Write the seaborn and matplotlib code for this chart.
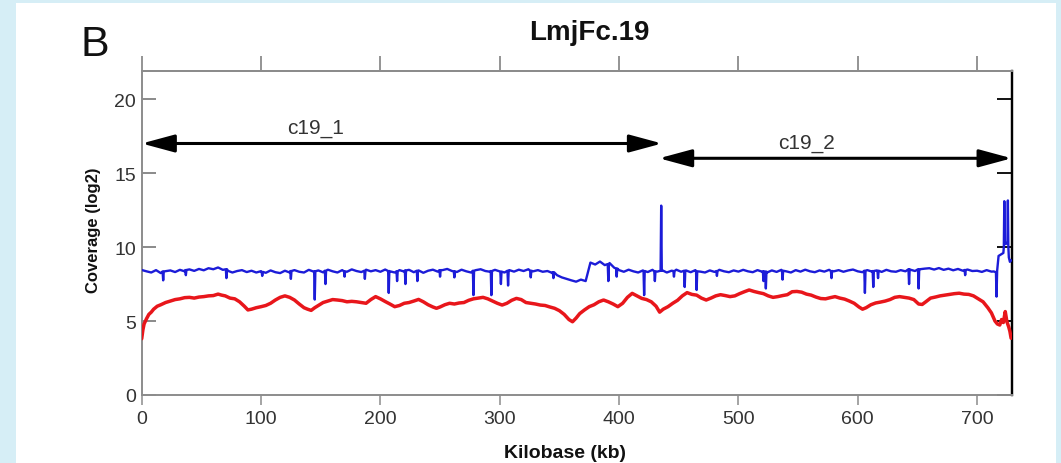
import matplotlib
matplotlib.use("Agg")
import matplotlib.pyplot as plt
import seaborn as sns
import pandas as pd
from matplotlib.patches import Rectangle

# ---------------- data ----------------
title = "LmjFc.19"
panel_letter = "B"
x_label = "Kilobase (kb)"
y_label = "Coverage (log2)"
x_ticks = [0, 100, 200, 300, 400, 500, 600, 700]
y_ticks = [0, 5, 10, 15, 20]

# blue (read coverage) baseline, sampled every 4 kb from 0 to 712 kb
blue_base_kb = list(range(0, 716, 4))
blue_base_cov = [
    8.45, 8.36, 8.28, 8.44, 8.24, 8.37, 8.42, 8.31, 8.46, 8.36, 8.49, 8.39, 8.52, 8.43, 8.57, 8.50, 8.62, 8.46, 8.40, 8.28, 8.38, 8.44, 8.31, 8.40, 8.28,
    8.37, 8.26, 8.42, 8.30, 8.24, 8.40, 8.28, 8.44, 8.33, 8.28, 8.46, 8.34, 8.42, 8.29, 8.47, 8.36, 8.28, 8.44, 8.33, 8.49, 8.38, 8.31, 8.47, 8.36, 8.44,
    8.33, 8.48, 8.36, 8.28, 8.44, 8.34, 8.46, 8.30, 8.42, 8.26, 8.40, 8.47, 8.34, 8.44, 8.52, 8.38, 8.31, 8.47, 8.36, 8.28, 8.44, 8.50, 8.38, 8.33, 8.46,
    8.36, 8.28, 8.44, 8.34, 8.47, 8.38, 8.50, 8.36, 8.44, 8.33, 8.38, 8.25, 8.10, 7.95, 7.85, 7.75, 7.66, 7.80, 7.70, 8.95, 8.82, 9.02, 8.78, 8.92, 8.60,
    8.44, 8.33, 8.47, 8.36, 8.28, 8.42, 8.31, 8.46, 8.34, 8.44, 8.28, 8.40, 8.47, 8.33, 8.42, 8.30, 8.44, 8.34, 8.28, 8.42, 8.32, 8.46, 8.36, 8.30, 8.42,
    8.34, 8.46, 8.36, 8.30, 8.44, 8.33, 8.28, 8.42, 8.32, 8.46, 8.36, 8.28, 8.44, 8.34, 8.47, 8.36, 8.30, 8.42, 8.34, 8.46, 8.36, 8.44, 8.33, 8.42, 8.48,
    8.36, 8.30, 8.44, 8.34, 8.42, 8.32, 8.46, 8.36, 8.33, 8.44, 8.36, 8.47, 8.38, 8.50, 8.54, 8.57, 8.48, 8.58, 8.46, 8.54, 8.43, 8.52, 8.40, 8.48, 8.38,
    8.40, 8.32, 8.44, 8.34,
]
# blue narrow spikes: position, tip value, and the local level on both sides of the spike
blue_spike_kb = [18, 37, 71, 101, 125, 145, 154, 170, 187, 207, 214, 221, 231, 250, 262, 278, 293, 301, 307, 326, 345,
                 391, 398, 421, 430, 435.3, 446, 455, 465, 482, 521, 523, 537, 578, 606, 613, 617, 643, 651, 690]
blue_spike_cov = [7.75, 8.1, 7.9, 8.05, 7.85, 6.45, 7.5, 8.0, 7.85, 6.9, 7.7, 7.5, 7.7, 8.0, 7.95, 6.75, 6.75, 7.5, 7.4, 7.95, 7.9,
                  7.7, 8.0, 6.75, 7.7, 12.8, 8.0, 7.3, 7.1, 8.05, 7.7, 7.2, 7.8, 7.9, 6.9, 7.3, 7.9, 7.5, 7.2, 8.1]
blue_spike_side = [8.35, 8.45, 8.50, 8.32, 8.38, 8.36, 8.40, 8.36, 8.40, 8.38, 8.36, 8.42, 8.40, 8.44, 8.36, 8.40, 8.38, 8.34, 8.40, 8.40, 8.30,
                   8.85, 8.55, 8.38, 8.36, 8.40, 8.38, 8.40, 8.36, 8.38, 8.36, 8.34, 8.40, 8.38, 8.40, 8.38, 8.40, 8.50, 8.50, 8.45]
# blue right chromosome end
blue_end_kb = [714, 715.8, 716.3, 716.8, 718, 720, 722, 722.4, 722.8, 723.2, 724, 725.4, 725.8, 726.2, 726.6, 727.5, 728.5]
blue_end_cov = [8.35, 8.3, 6.65, 8.4, 9.4, 9.5, 9.6, 10.0, 13.1, 10.4, 10.2, 10.3, 13.15, 10.0, 9.3, 9.0, 9.1]

# red (second sample) coverage
red_kb = [0, 1, 2, 4, 6, 8, 10, 13, 16, 20, 24, 28, 32, 36, 40, 44, 48, 52, 56, 60, 64, 67, 70, 74, 78, 82, 86, 89, 92, 96,
          100, 104, 108, 112, 116, 120, 124, 128, 132, 136, 139, 142, 145, 148, 152, 156, 160, 164, 168, 172, 176, 180, 184, 188, 192, 196,
          200, 204, 208, 212, 216, 220, 224, 228, 232, 236, 240, 244, 247, 250, 254, 258, 262, 266, 270, 274, 278, 282, 286, 290, 294, 298,
          302, 306, 310, 314, 318, 322, 326, 330, 334, 338, 342, 346, 350, 354, 358, 361, 364, 367, 371, 375, 379, 383, 387, 391, 395, 399,
          403, 407, 411, 415, 419, 423, 427, 431, 434, 437, 441, 445, 449, 453, 457, 461, 465, 469, 473, 477, 481, 485, 489, 493, 497,
          501, 505, 509, 513, 517, 521, 525, 529, 533, 537, 541, 545, 549, 553, 557, 561, 565, 569, 573, 577, 581, 585, 589, 593, 597,
          601, 604, 607, 611, 615, 619, 623, 627, 631, 635, 639, 643, 647, 651, 654, 657, 661, 665, 669, 673, 677, 681, 685, 689, 693, 697,
          701, 705, 709, 712, 715, 717, 719, 720.5, 722, 723.6, 725, 726.5, 727.5, 728.5]
red_cov = [3.8, 4.4, 4.8, 5.15, 5.45, 5.6, 5.8, 6.0, 6.1, 6.25, 6.35, 6.45, 6.5, 6.58, 6.6, 6.55, 6.62, 6.65, 6.7, 6.72, 6.82, 6.75, 6.7, 6.55, 6.5, 6.3, 6.0, 5.75, 5.8, 5.9,
           5.97, 6.05, 6.2, 6.42, 6.6, 6.7, 6.6, 6.42, 6.15, 5.9, 5.8, 5.72, 5.9, 6.05, 6.25, 6.35, 6.45, 6.42, 6.38, 6.3, 6.33, 6.3, 6.25, 6.2, 6.45, 6.65,
           6.5, 6.32, 6.15, 5.97, 6.05, 6.2, 6.25, 6.35, 6.46, 6.3, 6.1, 5.95, 5.86, 5.95, 6.1, 6.2, 6.15, 6.22, 6.25, 6.4, 6.5, 6.55, 6.6, 6.5, 6.35, 6.2,
           6.08, 6.2, 6.4, 6.53, 6.45, 6.25, 6.2, 6.15, 6.08, 6.05, 5.95, 5.86, 5.7, 5.45, 5.1, 4.95, 5.2, 5.5, 5.75, 5.97, 6.1, 6.3, 6.42, 6.3, 6.15, 5.97,
           6.2, 6.6, 6.87, 6.7, 6.53, 6.45, 6.3, 6.0, 5.6, 5.8, 5.97, 6.2, 6.4, 6.7, 6.92, 6.8, 6.75, 6.55, 6.42, 6.55, 6.7, 6.78, 6.72, 6.65, 6.7,
           6.85, 6.98, 7.1, 7.0, 6.92, 6.85, 6.7, 6.6, 6.65, 6.72, 6.78, 6.98, 7.0, 6.95, 6.82, 6.75, 6.62, 6.52, 6.5, 6.58, 6.65, 6.55, 6.48, 6.35, 6.2,
           5.95, 5.8, 5.9, 6.1, 6.22, 6.28, 6.35, 6.45, 6.6, 6.65, 6.6, 6.55, 6.45, 6.15, 6.12, 6.3, 6.55, 6.62, 6.7, 6.75, 6.8, 6.85, 6.88, 6.82, 6.8, 6.7,
           6.5, 6.3, 5.9, 5.55, 5.0, 4.8, 4.73, 5.1, 4.9, 5.64, 4.95, 4.6, 4.3, 3.84]

# contig segments (double-headed arrows)
seg_names = ["c19_1", "c19_2"]
seg_start = [0, 433.5]
seg_end = [436, 729]
seg_level = [17.0, 16.0]
seg_label_kb = [146, 557]
seg_label_level = [18.1, 17.1]

# ---------------- figure ----------------
sns.set_theme(style="white")
plt.rcParams["font.family"] = ["Liberation Sans", "DejaVu Sans"]

W, H = 1061, 464
fig = plt.figure(figsize=(W / 100, H / 100), dpi=100, facecolor="#d6eef6")
bg = Rectangle((16 / W, 0), (1056 - 16) / W, 1 - 4 / H, transform=fig.transFigure,
               facecolor="white", edgecolor="none", zorder=-10)
fig.add_artist(bg)

ax = fig.add_axes([141.7 / W, 1 - 396 / H, (1011.7 - 141.7) / W, (396 - 72) / H])
ax.set_zorder(2)
ax.set_facecolor("white")

spike_kb_all, spike_cov_all = [], []
for k, v, s in zip(blue_spike_kb, blue_spike_cov, blue_spike_side):
    spike_kb_all += [k - 0.5, k, k + 0.5]
    spike_cov_all += [s, v, s]

blue_df = pd.DataFrame({
    "kb": blue_base_kb + spike_kb_all + blue_end_kb,
    "cov": blue_base_cov + spike_cov_all + blue_end_cov,
}).sort_values("kb")
red_df = pd.DataFrame({"kb": red_kb, "cov": red_cov})

sns.lineplot(data=red_df, x="kb", y="cov", estimator=None, sort=True, color="#e8161b", lw=2.5, ax=ax, zorder=3)
sns.lineplot(data=blue_df, x="kb", y="cov", estimator=None, sort=True, color="#1c1cd8", lw=1.7, ax=ax, zorder=4)

for name, s, e, lvl, lk, ll in zip(seg_names, seg_start, seg_end, seg_level, seg_label_kb, seg_label_level):
    ax.annotate("", xy=(e, lvl), xytext=(s, lvl),
                arrowprops=dict(arrowstyle="<|-|>,head_length=1.0,head_width=0.27", color="black",
                                lw=2.2, shrinkA=0, shrinkB=0, mutation_scale=20),
                zorder=5, annotation_clip=False)
    ax.text(lk, ll, name, ha="center", va="center", fontsize=15, color="#333333")

ax.set_xlim(0, 729)
ax.set_ylim(0, 21.9)
ax.set_xticks(x_ticks)
ax.set_yticks(y_ticks)
ax.set_xlabel(x_label, fontsize=14, fontweight="bold", color="#111111")
ax.set_ylabel(y_label, fontsize=12, fontweight="bold", color="#111111")
ax.xaxis.set_label_coords((565 - 141.7) / (1011.7 - 141.7), -(445 - 396) / (396 - 72))
ax.yaxis.set_label_coords(-(141.7 - 101) / (1011.7 - 141.7), (396 - 230) / (396 - 72))

for side in ["left", "bottom", "top"]:
    ax.spines[side].set_color("#8c8c8c")
    ax.spines[side].set_linewidth(1.4)
ax.spines["right"].set_color("black")
ax.spines["right"].set_linewidth(1.6)

ax.tick_params(axis="x", which="major", direction="out", bottom=True, top=False, length=7, width=1.1,
               color="#8c8c8c", labelsize=14, labelcolor="#333333", pad=4)
ax.tick_params(axis="y", which="major", direction="in", left=True, right=False, length=10, width=1.2,
               color="#777777", labelsize=14, labelcolor="#333333", pad=4)

top = ax.secondary_xaxis("top")
top.set_xticks(x_ticks)
top.tick_params(axis="x", direction="out", length=11, width=1.1, color="#777777", labeltop=False)
top.spines["top"].set_color("#8c8c8c")
top.spines["top"].set_linewidth(1.4)

right = ax.secondary_yaxis("right")
right.set_yticks(y_ticks)
right.tick_params(axis="y", direction="in", length=11, width=1.3, color="black", labelright=False)
right.spines["right"].set_color("black")
right.spines["right"].set_linewidth(1.6)

fig.text(589.5 / W, 1 - 33 / H, title, ha="center", va="center", fontsize=20, fontweight="bold", color="#111111")
fig.text(94.5 / W, 1 - 45 / H, panel_letter, ha="center", va="center", fontsize=31, color="#111111")

fig.savefig("out.png", dpi=100, facecolor=fig.get_facecolor())
